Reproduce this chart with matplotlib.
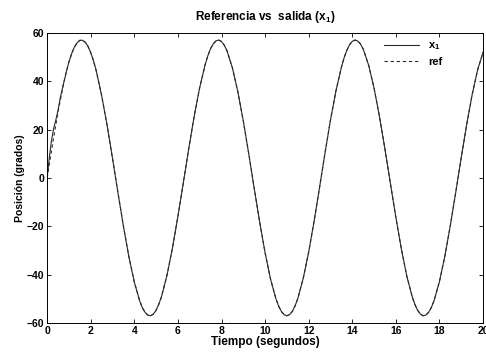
import numpy as np
import matplotlib.pyplot as plt

plt.rcParams['font.family'] = ['Liberation Sans', 'DejaVu Sans']
plt.rcParams['mathtext.default'] = 'regular'

# tiempo de muestreo (s)
t_grid = np.arange(0, 20.001, 0.25)

# referencia (grados)
ref_grid = [0.0, 14.1, 27.3, 38.9, 48.0, 54.1, 56.9, 56.1, 51.8, 44.4,
            34.1, 21.8, 8.0, -6.2, -20.0, -32.6, -43.1, -51.0, -55.7, -57.0,
            -54.7, -49.0, -40.2, -29.0, -15.9, -1.9, 12.3, 25.7, 37.4, 46.9,
            53.5, 56.7, 56.4, 52.6, 45.5, 35.6, 23.5, 9.9, -4.3, -18.2,
            -31.0, -41.9, -50.1, -55.3, -57.0, -55.2, -49.9, -41.5, -30.6, -17.8,
            -3.8, 10.4, 24.0, 36.0, 45.8, 52.8, 56.5, 56.6, 53.3, 46.6,
            37.1, 25.2, 11.8, -2.4, -16.4, -29.4, -40.6, -49.2, -54.8, -57.0,
            -55.6, -50.8, -42.8, -32.2, -19.5, -5.7, 8.5, 22.2, 34.5, 44.7,
            52.0]

# muestras extra cerca de maximos y minimos
t_extra = [0.875, 1.125, 1.375, 1.625, 1.875, 2.125,
           4.375, 4.625, 4.875, 5.125,
           7.375, 7.625, 7.875, 8.125,
           10.625, 10.875, 11.125, 11.375,
           13.625, 13.875, 14.125, 14.375,
           16.875, 17.125, 17.375, 17.625]
ref_extra = [43.7, 51.4, 55.9, 56.9, 54.4, 48.5,
             -53.8, -56.8, -56.3, -52.2,
             50.6, 55.5, 57.0, 54.9,
             -53.1, -56.6, -56.5, -52.9,
             49.7, 55.1, 57.0, 55.4,
             -52.4, -56.3, -56.7, -53.6]

t = np.concatenate([t_grid, t_extra])
ref = np.concatenate([ref_grid, ref_extra])
orden = np.argsort(t)
t = t[orden]
ref = ref[orden]

# salida x1: transitorio inicial y luego sigue a la referencia
t_ini = [0.0, 0.1, 0.2, 0.3, 0.4, 0.5, 0.6]
x1_ini = [0.0, 8.5, 15.5, 20.5, 24.0, 28.0, 33.0]
sig = t > 0.7
t_x1 = np.concatenate([t_ini, t[sig]])
x1 = np.concatenate([x1_ini, ref[sig]])

fig = plt.figure(figsize=(4.86, 3.53), dpi=100)
ax = fig.add_axes([0.097, 0.085, 0.897, 0.822])

ax.plot(t_x1, x1, color='#2a2a2a', lw=0.8, label='x$_1$')
ax.plot(t, ref, color='#2a2a2a', lw=0.8, ls=(0, (3, 2.5)), label='ref')

ax.set_xlim(0, 20)
ax.set_ylim(-60, 60)
ax.set_xticks(range(0, 21, 2))
ax.set_yticks(range(-60, 61, 20))
ax.tick_params(direction='in', top=True, right=True, length=3, width=0.6,
               labelsize=7.5, pad=2)
for lab in ax.get_xticklabels() + ax.get_yticklabels():
    lab.set_fontweight('bold')
for sp in ax.spines.values():
    sp.set_linewidth(0.7)

ax.set_title('Referencia vs  salida (x$_1$)', fontsize=8.5, fontweight='bold', pad=9)
ax.set_xlabel('Tiempo (segundos)', fontsize=8.5, fontweight='bold', labelpad=0)
ax.set_ylabel('Posición (grados)', fontsize=7.5, fontweight='bold', labelpad=1)

leg = ax.legend(loc='upper right', bbox_to_anchor=(0.925, 1.0), frameon=False,
                fontsize=8, handlelength=3.2, borderaxespad=0.3, labelspacing=0.4)
for txt in leg.get_texts():
    txt.set_fontweight('bold')

fig.savefig('out.png', dpi=100)
